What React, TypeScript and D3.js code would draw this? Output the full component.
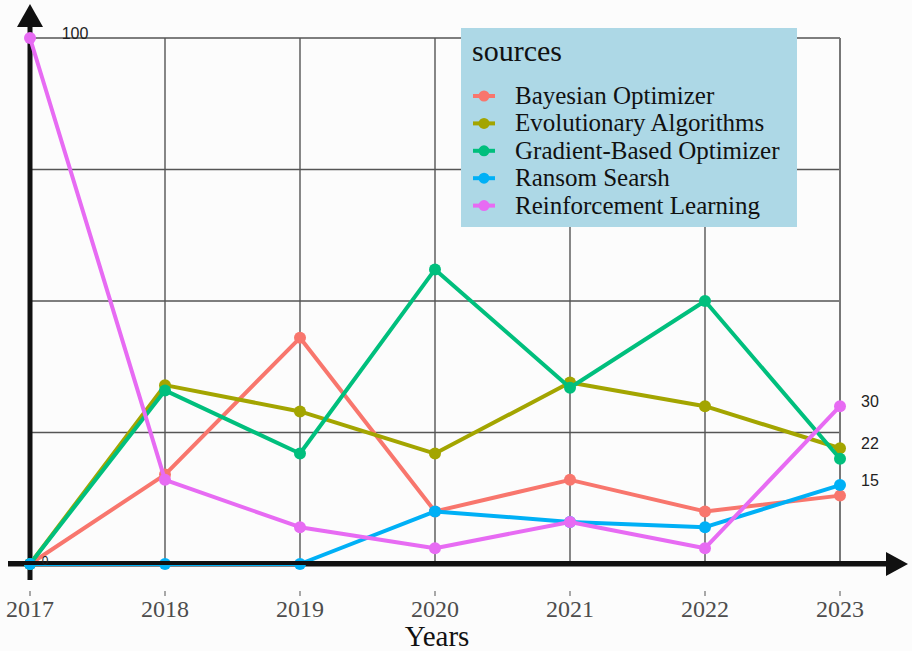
import React, { Component } from 'react';
import * as d3 from 'd3';

const years = [2017, 2018, 2019, 2020, 2021, 2022, 2023];
const sources = ['Bayesian Optimizer', 'Evolutionary Algorithms', 'Gradient-Based Optimizer', 'Ransom Searsh', 'Reinforcement Learning'];
const colors = ['#F8766D', '#A3A500', '#00BF7D', '#00B0F6', '#E76BF3'];

const bayesian = [0, 17, 43, 10, 16, 10, 13];
const evolutionary = [0, 34, 29, 21, 34.5, 30, 22];
const gradient = [0, 33, 21, 56, 33.5, 50, 20];
const randomSearch = [0, 0, 0, 10, 8, 7, 15];
const reinforcement = [100, 16, 7, 3, 8, 3, 30];
const series = [bayesian, evolutionary, gradient, randomSearch, reinforcement];

const yGrid = [0, 25, 50, 75, 100];

// text labels placed next to some points: [year, value]
const pointLabels: [number, number][] = [[2017, 100], [2017, 0], [2023, 30], [2023, 22], [2023, 15]];

const W = 912, H = 651;

class App extends Component {
    svg: SVGSVGElement | null = null;

    componentDidMount() {
        this.updateChart();
    }

    updateChart() {
        const svg = d3.select(this.svg);
        svg.selectAll('*').remove();

        const xScale = d3.scalePoint<number>().domain(years).range([30, 840]);
        const yScale = d3.scaleLinear().domain([0, 100]).range([564, 38]);
        const x0 = xScale(2017)!, x1 = xScale(2023)!;

        svg.append('rect').attr('width', W).attr('height', H).attr('fill', '#FCFCFC');

        // grid
        const grid = svg.append('g');
        grid.selectAll('.hgrid').data(yGrid.slice(1)).enter().append('line')
            .attr('x1', x0).attr('x2', x1)
            .attr('y1', d => yScale(d)).attr('y2', d => yScale(d))
            .attr('stroke', '#555').attr('stroke-width', 1.4);
        grid.selectAll('.vgrid').data(years).enter().append('line')
            .attr('x1', d => xScale(d)!).attr('x2', d => xScale(d)!)
            .attr('y1', yScale(0)).attr('y2', yScale(100))
            .attr('stroke', (d, i) => i === years.length - 1 ? '#777' : '#555')
            .attr('stroke-width', (d, i) => i === years.length - 1 ? 2 : 1.4);

        // tick marks + labels
        const ticks = svg.append('g');
        ticks.selectAll('line').data(years).enter().append('line')
            .attr('x1', d => xScale(d)!).attr('x2', d => xScale(d)!)
            .attr('y1', 591).attr('y2', 596)
            .attr('stroke', '#555').attr('stroke-width', 1);
        ticks.selectAll('text').data(years).enter().append('text')
            .text(d => d)
            .attr('x', d => xScale(d)!).attr('y', 617)
            .attr('text-anchor', 'middle')
            .attr('font-family', 'Liberation Serif, serif')
            .attr('font-size', 24)
            .attr('fill', '#4d4d4d');

        svg.append('text').text('Years')
            .attr('x', 437).attr('y', 646)
            .attr('text-anchor', 'middle')
            .attr('font-family', 'Liberation Serif, serif')
            .attr('font-size', 29)
            .attr('fill', '#111');

        // axes with arrows
        const axes = svg.append('g');
        axes.append('line').attr('x1', 8).attr('x2', 888)
            .attr('y1', yScale(0)).attr('y2', yScale(0))
            .attr('stroke', '#111').attr('stroke-width', 5);
        axes.append('path')
            .attr('d', `M886,${yScale(0) - 12}L908,${yScale(0)}L886,${yScale(0) + 12}Z`)
            .attr('fill', '#111');
        axes.append('line').attr('x1', x0).attr('x2', x0)
            .attr('y1', 580).attr('y2', 25)
            .attr('stroke', '#111').attr('stroke-width', 5);
        axes.append('path')
            .attr('d', `M${x0 - 13},27L${x0},4L${x0 + 13},27Z`)
            .attr('fill', '#111');

        // lines + points
        const line = d3.line<number>()
            .x((d, i) => xScale(years[i])!)
            .y(d => yScale(d));
        series.forEach((vals, si) => {
            const g = svg.append('g');
            g.append('path').attr('d', line(vals))
                .attr('fill', 'none')
                .attr('stroke', colors[si])
                .attr('stroke-width', 4)
                .attr('stroke-linejoin', 'round');
            g.selectAll('circle').data(vals).enter().append('circle')
                .attr('cx', (d, i) => xScale(years[i])!)
                .attr('cy', d => yScale(d))
                .attr('r', 6)
                .attr('fill', colors[si]);
        });

        // redraw x axis line over zero-valued points
        svg.append('line').attr('x1', 8).attr('x2', 888)
            .attr('y1', yScale(0) - 1).attr('y2', yScale(0) - 1)
            .attr('stroke', '#111').attr('stroke-width', 4);

        // point labels
        svg.selectAll('.point-label').data(pointLabels).enter().append('text')
            .attr('class', 'point-label')
            .text(d => d[1])
            .attr('x', d => xScale(d[0])! + 15 * String(d[1]).length)
            .attr('y', d => yScale(d[1]) + 1)
            .attr('text-anchor', 'middle')
            .attr('font-family', 'Liberation Sans, Arial, sans-serif')
            .attr('font-size', d => d[1] === 0 ? 12 : 16)
            .attr('fill', '#222');

        // legend
        const legend = svg.append('g').attr('transform', 'translate(461,28)');
        legend.append('rect').attr('width', 336).attr('height', 199).attr('fill', '#ADD8E6');
        legend.append('text').text('sources')
            .attr('x', 11).attr('y', 33)
            .attr('font-family', 'Liberation Serif, serif')
            .attr('font-size', 30)
            .attr('fill', '#111');
        const items = legend.selectAll('.item').data(sources).enter().append('g')
            .attr('transform', (d, i) => `translate(0,${68 + i * 27.4})`);
        items.append('line').attr('x1', 12).attr('x2', 34)
            .attr('stroke', (d, i) => colors[i]).attr('stroke-width', 4);
        items.append('circle').attr('cx', 23).attr('r', 5.5)
            .attr('fill', (d, i) => colors[i]);
        items.append('text').text(d => d)
            .attr('x', 54).attr('y', 8)
            .attr('font-family', 'Liberation Serif, serif')
            .attr('font-size', 25)
            .attr('fill', '#111');
    }

    render() {
        return (
            <svg width={W} height={H} ref={node => { this.svg = node; }}
                 style={{ position: 'absolute', left: 0, top: 0 }} />
        );
    }
}

export default App;
